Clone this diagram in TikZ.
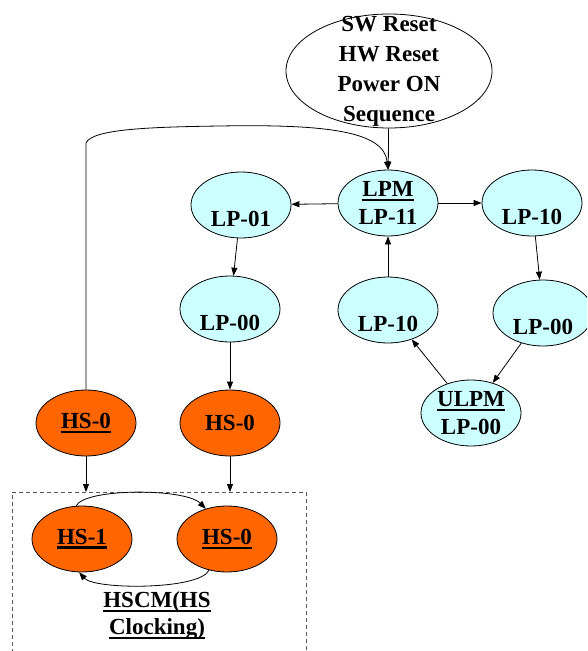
\documentclass[tikz,border=0pt]{standalone}
\usepackage{fontspec}
\setmainfont{Liberation Serif}
\usetikzlibrary{shapes.geometric, positioning, arrows.meta}
\definecolor{lpcyan}{HTML}{CCFFFF}
\definecolor{hsorange}{HTML}{FF6600}
\newcommand{\ulbf}[1]{\setbox0=\hbox{#1}\rlap{\raisebox{-4.5pt}{\rule{\wd0}{2.4pt}}}\box0}

\begin{document}
\begin{tikzpicture}[x=1pt, y=-1pt, line width=0.8pt, >={Triangle[length=8pt, width=6pt]},
    every node/.style={font=\fontsize{23}{28}\selectfont\bfseries, align=center},
    start/.style={ellipse, draw, minimum width=206pt, minimum height=114pt, inner xsep=0pt, inner ysep=-16pt, font=\fontsize{23}{30}\selectfont\bfseries},
    lp/.style={ellipse, draw, fill=lpcyan, minimum width=100pt, minimum height=66pt, inner sep=-5pt},
    hs/.style={ellipse, draw, fill=hsorange, minimum width=100pt, minimum height=66pt, inner sep=-5pt},
    hscmbox/.style={draw=black!65, dash pattern=on 4pt off 3pt, minimum width=294pt, minimum height=200pt, anchor=north west}]
    \useasboundingbox (0,0) rectangle (587,651);
    \clip (0,0) rectangle (587,651);

    \node[start] (reset) at (389,71) {SW Reset\\HW Reset\\Power ON\\Sequence};

    \node[lp] (lpm) at (388,203) {\ulbf{LPM}\\LP-11};
    \node[lp] (lp01) at (241,205) {\vphantom{L}\\LP-01};
    \node[lp] (lp10r) at (532,203) {\vphantom{L}\\LP-10};
    \node[lp] (lp00a) at (230,309) {\vphantom{L}\\LP-00};
    \node[lp] (lp10l) at (388,310) {\vphantom{L}\\LP-10};
    \node[lp] (lp00b) at (543,313) {\vphantom{L}\\LP-00};
    \node[lp] (ulpm) at (471,413) {\ulbf{ULPM}\\LP-00};

    \node[hs] (hs0a) at (86,423) {\ulbf{HS-0}};
    \node[hs] (hs0b) at (230,423) {HS-0};

    \node[hscmbox] (hscm) at (12,492) {};
    \node[hs] (hs1) at (82,539) {\ulbf{HS-1}};
    \node[hs] (hs0c) at (227,539) {\ulbf{HS-0}};
    \node[font=\fontsize{23}{27}\selectfont\bfseries] (hscmtext) at (157,616) {\ulbf{HSCM(HS}\\\ulbf{Clocking)}};

    \draw[->] (reset) edge (lpm);
    \draw[->] (lpm) edge (lp01);
    \draw[->] (lpm) edge (lp10r);
    \draw[->] (lp10r) edge (lp00b);
    \draw[->] (lp00b) edge (ulpm);
    \draw[->] (ulpm) edge (lp10l);
    \draw[->] (lp10l) edge (lpm);
    \draw[->] (lp01) edge (lp00a);
    \draw[->] (lp00a) edge (hs0b);

    \coordinate (bend) at (86,143);
    \draw[->] (hs0a.north) -- (bend) .. controls (92,129) and (150,127) .. (220,126)
        .. controls (330,124) and (384,132) .. (lpm.north);

    \draw[->] (hs0a) -- (hs0a |- hscm.north);
    \draw[->] (hs0b) -- (hs0b |- hscm.north);

    \draw[->] (hs1.100) .. controls (85,488) and (185,488) .. (hs0c.125);
    \draw[->] (hs0c.-120) .. controls (200,590) and (95,590) .. (hs1.-95);
\end{tikzpicture}
\end{document}
